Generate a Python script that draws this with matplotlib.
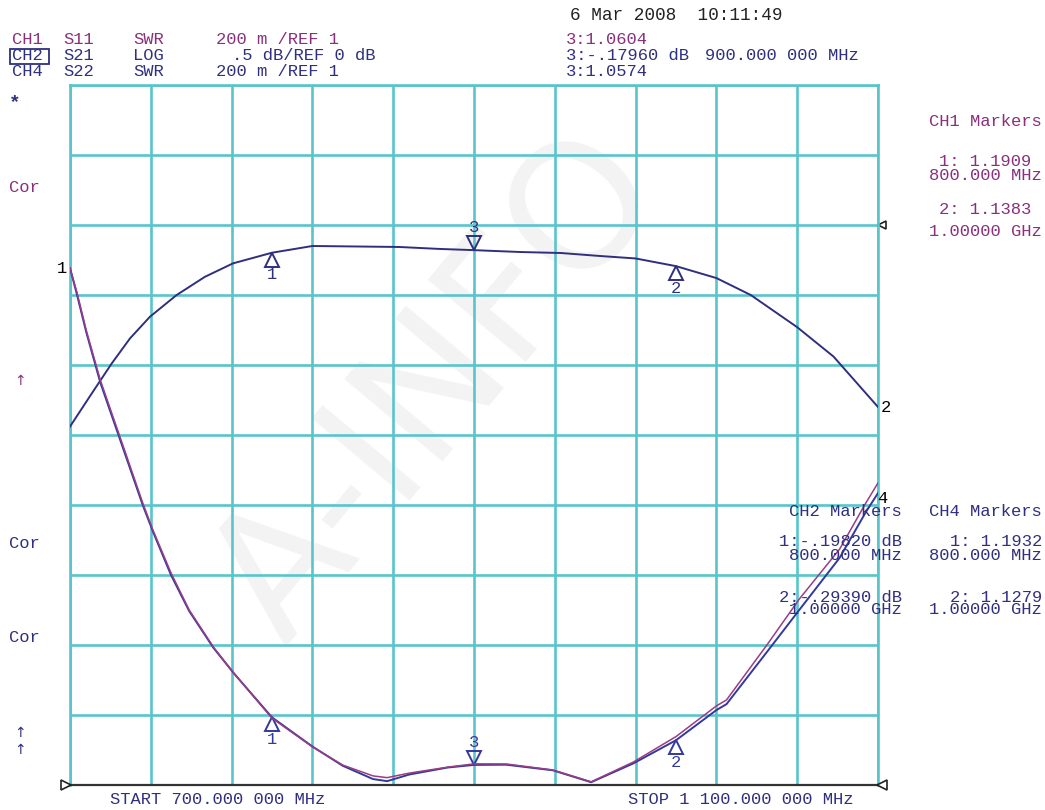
import numpy as np
import matplotlib
matplotlib.use("Agg")
import matplotlib.pyplot as plt
import matplotlib.transforms as mtransforms
from matplotlib.patches import Rectangle

f_start, f_stop = 700, 1100          # MHz
f_div = 40                           # MHz / division

# CH2  S21  LOG  0.5 dB/div, REF 0 dB
ch2_freq = [700, 710, 720.6, 729.7, 739.6, 752.8, 766.8, 780.7, 800, 820, 839,
            863, 883, 900, 923, 943, 962, 980, 1000, 1020, 1037, 1060, 1078,
            1100]
ch2_s21 = [-1.44, -1.22, -0.99, -0.81, -0.655, -0.50, -0.37, -0.274, -0.198,
           -0.15, -0.153, -0.157, -0.171, -0.1796, -0.193, -0.20, -0.221,
           -0.239, -0.2939, -0.379, -0.50, -0.73, -0.94, -1.30]

# CH1 S11 SWR and CH4 S22 SWR, 200 m/div, REF 1
swr_freq = [700, 703.5, 708, 715, 721, 727, 736, 741, 750, 759, 771, 781, 800,
            820, 835, 850, 857, 868, 887, 900, 916, 939, 958, 979, 1000, 1020,
            1025, 1045, 1061, 1081, 1094, 1100]
ch1_s11 = [2.477, 2.406, 2.30, 2.157, 2.057, 1.957, 1.806, 1.729, 1.606, 1.50,
           1.394, 1.32, 1.1909, 1.109, 1.057, 1.026, 1.021, 1.034, 1.051,
           1.0604, 1.06, 1.043, 1.009, 1.066, 1.1383, 1.226, 1.243, 1.40,
           1.531, 1.674, 1.806, 1.863]
ch4_s22 = [2.477, 2.40, 2.295, 2.15, 2.05, 1.95, 1.80, 1.725, 1.60, 1.497,
           1.392, 1.32, 1.1932, 1.11, 1.055, 1.017, 1.011, 1.03, 1.05, 1.0574,
           1.058, 1.042, 1.008, 1.062, 1.1279, 1.214, 1.231, 1.38, 1.50, 1.649,
           1.78, 1.834]

marker_freq = [800, 1000, 900]
marker_names = ["1", "2", "3"]
ch1_marker_vals = [1.1909, 1.1383, 1.0604]
ch2_marker_vals = [-0.19820, -0.29390, -0.17960]
ch4_marker_vals = [1.1932, 1.1279, 1.0574]

# ---------------- style ----------------
W, H = 1045, 810
GRID = "#58c5cb"
PURPLE = "#8a2f7c"
NAVY = "#2f2f80"
BLUE = "#33399c"
MAG = "#9a3c86"
DARK = "#222222"
MONO = "Liberation Mono"
FS = 12.3

fig = plt.figure(figsize=(W / 100, H / 100), dpi=100)


def fx(x):
    return x / W


def fy(y):
    return 1 - y / H


def ftext(x, y, s, color=NAVY, ha="left", size=FS, family=MONO, **kw):
    fig.text(fx(x), fy(y), s, color=color, ha=ha, va="center",
             fontsize=size, family=family, **kw)


# watermark
fig.text(0.42, 0.52, "A-INFO", fontsize=125, color="#f3f3f3", rotation=50,
         ha="center", va="center", family="DejaVu Sans", zorder=0)

rect = [70 / W, 1 - 785 / H, 808 / W, 700 / H]
ax = fig.add_axes(rect, zorder=1)
ax.set_facecolor("none")
ax.set_xlim(f_start, f_stop)
ax.set_ylim(-4.0, 1.0)
ax.set_xticks(np.arange(f_start, f_stop + 1, f_div))
ax.set_yticks(np.arange(-4.0, 1.01, 0.5))
ax.grid(True, color=GRID, lw=1.9)
ax.tick_params(length=0, labelbottom=False, labelleft=False)
for s in ["left", "right", "top"]:
    ax.spines[s].set_color(GRID)
    ax.spines[s].set_linewidth(1.9)
ax.spines["bottom"].set_color("#333333")
ax.spines["bottom"].set_linewidth(1.6)
ax.set_axisbelow(True)

ax1 = fig.add_axes(rect, zorder=3, facecolor="none")
ax4 = fig.add_axes(rect, zorder=2, facecolor="none")
for a in (ax1, ax4):
    a.set_xlim(f_start, f_stop)
    a.set_ylim(1.0, 3.0)
    a.axis("off")

ax.plot(ch2_freq, ch2_s21, color=NAVY, lw=1.4, zorder=3)
ax4.plot(swr_freq, ch4_s22, color=BLUE, lw=1.4)
ax1.plot(swr_freq, ch1_s11, color=MAG, lw=1.1)

MS = 10


def draw_marker(a, f, v, name, color, down=False):
    sign = 1 if down else -1
    tr = mtransforms.offset_copy(a.transData, fig=fig, x=0,
                                 y=sign * MS / 2, units="points")
    a.plot([f], [v], marker="v" if down else "^", ms=MS, mfc="none",
           mec=color, mew=1.4, transform=tr, clip_on=False)
    a.annotate(name, (f, v), xytext=(0, sign * (MS + 6)),
               textcoords="offset points", ha="center", va="center",
               color=color, fontsize=FS, family=MONO)


for f, v, n in zip(marker_freq, ch2_marker_vals, marker_names):
    draw_marker(ax, f, v, n, NAVY, down=(n == "3"))
for f, v, n in zip(marker_freq, ch4_marker_vals, marker_names):
    draw_marker(ax4, f, v, n, BLUE, down=(n == "3"))

# reference position indicators
ref_tr = mtransforms.offset_copy(ax1.transData, fig=fig, x=-3, y=0, units="points")
ax1.plot([f_start], [1.0], marker=">", ms=7, mfc="white", mec=DARK, mew=1.2,
         transform=ref_tr, clip_on=False)
ref_tr_r = mtransforms.offset_copy(ax1.transData, fig=fig, x=3, y=0, units="points")
ax1.plot([f_stop], [1.0], marker="<", ms=7, mfc="white", mec=DARK, mew=1.2,
         transform=ref_tr_r, clip_on=False)
ref_tr_r2 = mtransforms.offset_copy(ax.transData, fig=fig, x=3, y=0, units="points")
ax.plot([f_stop], [0.0], marker="<", ms=6, mfc="white", mec=DARK, mew=1.2,
        transform=ref_tr_r2, clip_on=False)

# trace labels
ax1.annotate("1", (f_start, ch1_s11[0]), xytext=(-6, 0), textcoords="offset points",
             ha="center", va="center", color="black", fontsize=FS, family=MONO,
             annotation_clip=False)
ax.annotate("2", (f_stop, ch2_s21[-1]), xytext=(6, 0), textcoords="offset points",
            ha="center", va="center", color="black", fontsize=FS, family=MONO,
            annotation_clip=False)
ax4.annotate("4", (f_stop, ch4_s22[-1]), xytext=(3, -4), textcoords="offset points",
             ha="center", va="center", color="black", fontsize=FS, family=MONO,
             annotation_clip=False)

# ---------------- header ----------------
ftext(570, 15, "6 Mar 2008  10:11:49", color=DARK, size=12.8)
rows = [(40, "CH1", "S11", "SWR", "200 m /REF 1", 216, PURPLE),
        (56, "CH2", "S21", "LOG", ".5 dB/REF 0 dB", 232, NAVY),
        (71, "CH4", "S22", "SWR", "200 m /REF 1", 216, NAVY)]
for y, c, s, fmt, sc, xs, col in rows:
    ftext(12, y, c, color=col)
    ftext(63, y, s, color=col)
    ftext(133, y, fmt, color=col)
    ftext(xs, y, sc, color=col)
fig.add_artist(Rectangle((fx(10), fy(64)), 39 / W, 15 / H, fill=False,
                         edgecolor=NAVY, lw=1.3, transform=fig.transFigure))

ftext(566, 40, "3:1.0604", color=PURPLE)
ftext(566, 56, "3:-.17960 dB", color=NAVY)
ftext(705, 56, "900.000 000 MHz", color=NAVY)
ftext(566, 71, "3:1.0574", color=NAVY)

# ---------------- right side marker tables ----------------
ftext(1042, 121, "CH1 Markers", color=PURPLE, ha="right")
ftext(1031, 161, "1: 1.1909", color=PURPLE, ha="right")
ftext(1042, 176, "800.000 MHz", color=PURPLE, ha="right")
ftext(1031, 209, "2: 1.1383", color=PURPLE, ha="right")
ftext(1042, 231, "1.00000 GHz", color=PURPLE, ha="right")

ftext(902, 512, "CH2 Markers", color=NAVY, ha="right")
ftext(902, 542, "1:-.19820 dB", color=NAVY, ha="right")
ftext(902, 556, "800.000 MHz", color=NAVY, ha="right")
ftext(902, 597, "2:-.29390 dB", color=NAVY, ha="right")
ftext(902, 610, "1.00000 GHz", color=NAVY, ha="right")

ftext(1042, 512, "CH4 Markers", color=NAVY, ha="right")
ftext(1042, 542, "1: 1.1932", color=NAVY, ha="right")
ftext(1042, 556, "800.000 MHz", color=NAVY, ha="right")
ftext(1042, 597, "2: 1.1279", color=NAVY, ha="right")
ftext(1042, 610, "1.00000 GHz", color=NAVY, ha="right")

# ---------------- left annunciators ----------------
ftext(9, 103, "*", color=NAVY, size=14, weight="bold")
ftext(9, 188, "Cor", color=PURPLE)
ftext(14, 381, "\u2191", color=PURPLE, family="DejaVu Sans", size=10)
ftext(9, 543, "Cor", color=NAVY)
ftext(9, 638, "Cor", color=NAVY)
ftext(14, 733, "\u2191", color=NAVY, family="DejaVu Sans", size=10)
ftext(14, 750, "\u2191", color=NAVY, family="DejaVu Sans", size=10)

# ---------------- start / stop ----------------
ftext(110, 800, "START 700.000 000 MHz", color=NAVY)
ftext(628, 800, "STOP 1 100.000 000 MHz", color=NAVY)

fig.savefig("out.png", dpi=100, facecolor="white")
